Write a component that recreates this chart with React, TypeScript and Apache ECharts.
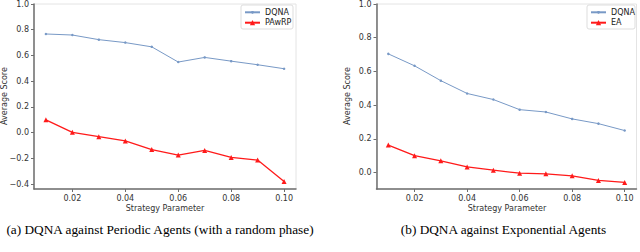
import React, { useEffect, useRef } from "react";
import * as echarts from "echarts";

const xValues = [0.01, 0.02, 0.03, 0.04, 0.05, 0.06, 0.07, 0.08, 0.09, 0.1];
const xTicks = [0.02, 0.04, 0.06, 0.08, 0.1];

const dqnaPeriodic = [0.767, 0.759, 0.723, 0.7, 0.667, 0.549, 0.585, 0.556, 0.528, 0.497];
const pawrp = [0.1, 0.003, -0.031, -0.064, -0.131, -0.174, -0.138, -0.192, -0.213, -0.379];

const dqnaExp = [0.704, 0.633, 0.545, 0.469, 0.433, 0.373, 0.359, 0.318, 0.29, 0.249];
const ea = [0.163, 0.1, 0.069, 0.033, 0.014, -0.004, -0.008, -0.02, -0.047, -0.059];

const yTicksLeft = [-0.4, -0.2, 0, 0.2, 0.4, 0.6, 0.8, 1.0];
const yTicksRight = [0, 0.2, 0.4, 0.6, 0.8, 1.0];

const captionA = "(a) DQNA against Periodic Agents (with a random phase)";
const captionB = "(b) DQNA against Exponential Agents";

const BLUE = "#7899c6";
const RED = "#ff1a1a";
const SANS = "DejaVu Sans";

function fmt(v: number) {
  return v.toFixed(2).replace("-", "\u2212");
}
function fmt1(v: number) {
  return v.toFixed(1).replace("-", "\u2212");
}

export default function App() {
  const ref = useRef<HTMLDivElement>(null);
  useEffect(() => {
    if (!ref.current) return;
    const chart = echarts.init(ref.current, null, { renderer: "svg" });
    const grids = [
      { left: 34, top: 2.5, width: 262, height: 186.5 },
      { left: 376.5, top: 2.5, width: 260, height: 186.5 },
    ];
    const xAxis = grids.map((_, i) => ({
      type: "value",
      gridIndex: i,
      min: 0.0055,
      max: 0.1045,
      splitLine: { show: false },
      axisLine: { show: true, onZero: false, lineStyle: { color: "#6e6e6e", width: 1.5 } },
      axisTick: { show: true, customValues: xTicks, length: 3, lineStyle: { color: "#6e6e6e" } },
      axisLabel: {
        customValues: xTicks,
        formatter: (v: number) => fmt(v),
        fontFamily: SANS,
        fontSize: 8,
        color: "#333",
        margin: 5,
      },
    }));
    const yAxis = [
      { min: -0.4375, max: 1.0, ticks: yTicksLeft },
      { min: -0.098, max: 1.0, ticks: yTicksRight },
    ].map((c, i) => ({
      type: "value",
      gridIndex: i,
      min: c.min,
      max: c.max,
      splitLine: { show: false },
      axisLine: { show: true, onZero: false, lineStyle: { color: "#6e6e6e", width: 1.5 } },
      axisTick: { show: true, customValues: c.ticks, length: 3, lineStyle: { color: "#6e6e6e" } },
      axisLabel: {
        customValues: c.ticks,
        formatter: (v: number) => fmt1(v),
        fontFamily: SANS,
        fontSize: 8,
        color: "#333",
        margin: 5,
      },
    }));
    const blueSeries = (name: string, data: number[], idx: number) => ({
      name,
      type: "line",
      xAxisIndex: idx,
      yAxisIndex: idx,
      data: xValues.map((x, k) => [x, data[k]]),
      symbol: "circle",
      symbolSize: 2.5,
      lineStyle: { color: BLUE, width: 1 },
      itemStyle: { color: BLUE },
      z: 3,
    });
    const redSeries = (name: string, data: number[], idx: number) => ({
      name,
      type: "line",
      xAxisIndex: idx,
      yAxisIndex: idx,
      data: xValues.map((x, k) => [x, data[k]]),
      symbol: "triangle",
      symbolSize: 5,
      lineStyle: { color: RED, width: 1.3 },
      itemStyle: { color: RED },
      z: 4,
    });
    const legendItem = (name: string, left: number, center: number, ih: number) => ({
      orient: "vertical",
      left,
      top: center - 5,
      padding: 0,
      itemWidth: 15,
      itemHeight: ih,
      data: [name],
      textStyle: { fontFamily: SANS, fontSize: 8, color: "#222", lineHeight: 10, height: 10 },
      z: 10,
    });
    const txt = (x: number, y: number, text: string, font: string, fill: string, rot = 0) => ({
      type: "text",
      x,
      y,
      rotation: rot,
      style: { text, font, fill, align: "center", verticalAlign: "middle" },
    });
    chart.setOption({
      animation: false,
      backgroundColor: "#fff",
      grid: grids.map((g) => ({ ...g, show: true, borderColor: "#e4e4e4", borderWidth: 1, backgroundColor: "transparent" })),
      xAxis,
      yAxis,
      legend: [
        legendItem("DQNA", 244, 12.3, 3.5),
        legendItem("PAwRP", 244, 22.7, 6.5),
        legendItem("DQNA ", 590, 12.3, 3.5),
        legendItem("EA", 590, 22.7, 6.5),
      ],
      series: [
        blueSeries("DQNA", dqnaPeriodic, 0),
        redSeries("PAwRP", pawrp, 0),
        blueSeries("DQNA ", dqnaExp, 1),
        redSeries("EA", ea, 1),
      ],
      graphic: [
        { type: "rect", shape: { x: 241, y: 5, width: 52, height: 24, r: 2 }, style: { fill: "#fff", stroke: "#dddddd", lineWidth: 1 }, z: 5 },
        { type: "rect", shape: { x: 587, y: 5, width: 48, height: 24, r: 2 }, style: { fill: "#fff", stroke: "#dddddd", lineWidth: 1 }, z: 5 },
        txt(4, 96, "Average Score", `8px "${SANS}"`, "#333", Math.PI / 2),
        txt(347.5, 96, "Average Score", `8px "${SANS}"`, "#333", Math.PI / 2),
        txt(165, 208, "Strategy Parameter", `8px "${SANS}"`, "#333"),
        txt(507, 208, "Strategy Parameter", `8px "${SANS}"`, "#333"),
        txt(160, 229, captionA, `13.3px "Liberation Serif"`, "#000"),
        txt(503.5, 229, captionB, `13.3px "Liberation Serif"`, "#000"),
      ],
    });
    return () => chart.dispose();
  }, []);
  return <div ref={ref} style={{ width: 640, height: 252, position: "absolute", left: 0, top: 0 }} />;
}
